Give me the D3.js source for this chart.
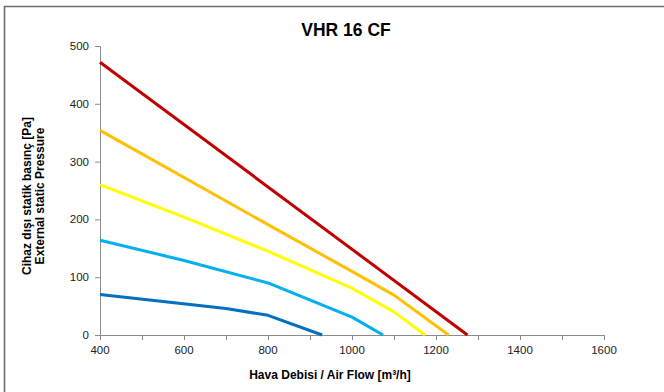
<!DOCTYPE html>
<html><head><meta charset="utf-8">
<script src="https://cdn.jsdelivr.net/npm/d3@7"></script>
<style>
body{margin:0;background:#fff;}
svg{display:block;font-family:"Liberation Sans",Arial,sans-serif;}
</style></head>
<body>
<script>
const title = "VHR 16 CF";
const xTitle = "Hava Debisi / Air Flow [m³/h]";
const yTitle1 = "Cihaz dışı statik basınç [Pa]";
const yTitle2 = "External static Pressure";
const xTicks = [400,600,800,1000,1200,1400,1600];
const xMinorTicks = [400,500,600,700,800,900,1000,1100,1200,1300,1400,1500,1600];
const yTicks = [0,100,200,300,400,500];

const s1x = [400,700,800,929];          const s1y = [70,46,34,0];
const s2x = [400,600,800,1000,1074];    const s2y = [164,129,90,31,0];
const s3x = [400,600,800,1000,1100,1174]; const s3y = [260,204,145,81,40,0];
const s4x = [400,800,1000,1100,1230];   const s4y = [354,191,110,69,0];
const s5x = [400,1275];                 const s5y = [472,0];
const seriesColors = ["#0070c0","#00b0f0","#ffff00","#ffc000","#c00000"];

const series = [[s1x,s1y],[s2x,s2y],[s3x,s3y],[s4x,s4y],[s5x,s5y]];

const W=664,H=392;
const svg=d3.select("body").append("svg").attr("width",W).attr("height",H);
// frame
svg.append("path").attr("d",`M4.5,${H+2} V6.5 H${W+2}`).attr("fill","none").attr("stroke","#6e6e6e").attr("stroke-width",1.6);

const x=d3.scaleLinear().domain([400,1600]).range([100,604]);
const y=d3.scaleLinear().domain([0,500]).range([335,46]);

const xAxis=svg.append("g").attr("transform","translate(0,335)")
  .call(d3.axisBottom(x).tickValues(xMinorTicks).tickSize(5).tickFormat(""));
xAxis.select(".domain").attr("stroke","#8c8c8c").attr("stroke-width",1);
xAxis.selectAll(".tick line").attr("stroke","#8c8c8c");
svg.append("g").selectAll("text").data(xTicks).join("text")
  .attr("x",d=>x(d)).attr("y",354).attr("text-anchor","middle")
  .attr("font-size",11.5).attr("fill","#222").text(d=>d);

const yAxis=svg.append("g").attr("transform","translate(100,0)")
  .call(d3.axisLeft(y).tickValues(yTicks).tickSize(5).tickFormat(""));
yAxis.select(".domain").attr("stroke","#8c8c8c").attr("stroke-width",1);
yAxis.selectAll(".tick line").attr("stroke","#8c8c8c");
svg.append("g").selectAll("text").data(yTicks).join("text")
  .attr("x",89).attr("y",d=>y(d)+4).attr("text-anchor","end")
  .attr("font-size",11.5).attr("fill","#222").text(d=>d);

const line=d3.line().x(d=>x(d[0])).y(d=>y(d[1]));
series.forEach((s,i)=>{
  const pts=s[0].map((v,j)=>[v,s[1][j]]);
  svg.append("path").datum(pts).attr("d",line).attr("fill","none")
    .attr("stroke",seriesColors[i]).attr("stroke-width",3).attr("stroke-linejoin","round");
});

svg.append("text").attr("x",346).attr("y",36).attr("text-anchor","middle")
  .attr("font-size",17.5).attr("font-weight","bold").attr("fill","#000").text(title);
svg.append("text").attr("x",330).attr("y",379).attr("text-anchor","middle")
  .attr("font-size",12).attr("font-weight","bold").attr("fill","#000").text(xTitle);
svg.append("text").attr("transform","translate(31,196) rotate(-90)").attr("text-anchor","middle")
  .attr("font-size",12).attr("font-weight","bold").attr("fill","#000").text(yTitle1);
svg.append("text").attr("transform","translate(44,196) rotate(-90)").attr("text-anchor","middle")
  .attr("font-size",12).attr("font-weight","bold").attr("fill","#000").text(yTitle2);
</script>
</body></html>
